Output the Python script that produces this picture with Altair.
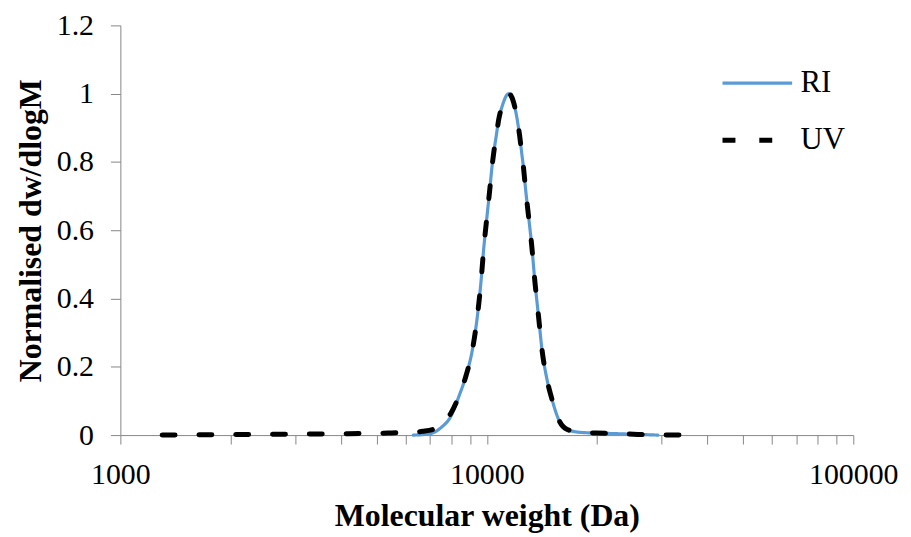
import altair as alt
import pandas as pd

# ---- data ----
ri_mw = [6298, 6917, 7502, 7986, 8395, 8770, 9133, 9423, 9632, 9814, 10031, 10189,
         10317, 10447, 10612, 10779, 11018, 11474, 11837, 12099, 12290, 12445, 12601,
         12759, 13000, 13246, 13539, 13838, 14144, 14594, 15057, 15681, 16535, 17992,
         19890, 22812, 25854, 29297]
ri_val = [0.0, 0.003, 0.022, 0.056, 0.114, 0.173, 0.25, 0.348, 0.445, 0.55, 0.65, 0.72,
          0.78, 0.828, 0.877, 0.925, 0.964, 1.0, 0.974, 0.925, 0.877, 0.828, 0.78,
          0.72, 0.64, 0.56, 0.445, 0.348, 0.25, 0.163, 0.105, 0.047, 0.017, 0.008,
          0.006, 0.004, 0.002, 0.0]

uv_mw = [1300, 1640, 2240, 3060, 4180, 5370, 6080, 6680, 7110, 7480, 7986, 8395, 8770,
         9133, 9423, 9632, 9814, 10031, 10189, 10317, 10447, 10612, 10779, 11018, 11474,
         11837, 12099, 12290, 12445, 12601, 12759, 13000, 13246, 13539, 13838, 14144,
         14594, 15057, 15681, 16535, 17992, 19890, 22812, 25854, 29297, 32890, 36800]
uv_val = [0.0, 0.001, 0.002, 0.003, 0.004, 0.006, 0.008, 0.011, 0.016, 0.03, 0.065, 0.115,
          0.173, 0.25, 0.348, 0.445, 0.55, 0.65, 0.72, 0.78, 0.828, 0.877, 0.925, 0.964,
          1.0, 0.974, 0.925, 0.877, 0.828, 0.78, 0.72, 0.64, 0.56, 0.445, 0.348, 0.25,
          0.163, 0.105, 0.047, 0.017, 0.008, 0.006, 0.004, 0.002, 0.0, 0.0, 0.0]

series_names = ["RI", "UV"]
x_ticks = [1000, 2000, 3000, 4000, 5000, 6000, 7000, 8000, 9000,
           10000, 20000, 30000, 40000, 50000, 60000, 70000, 80000, 90000, 100000]
x_labels = [1000, 10000, 100000]
y_ticks = [0, 0.2, 0.4, 0.6, 0.8, 1.0, 1.2]

df = pd.DataFrame({
    "mw": ri_mw + uv_mw,
    "val": ri_val + uv_val,
    "series": ["RI"] * len(ri_mw) + ["UV"] * len(uv_mw),
    "idx": list(range(len(ri_mw))) + list(range(len(uv_mw))),
})

FONT = "Liberation Serif"
AX = "#868686"

label_test = " || ".join(f"datum.value == {v}" for v in x_labels)

legend = alt.Legend(
    title=None, orient="none", legendX=603, legendY=21,
    symbolType="stroke", symbolSize=4900,
    labelFont=FONT, labelFontSize=31, labelColor="black",
    labelOffset=6, rowPadding=5,
)

chart = alt.Chart(df).mark_line(
    interpolate="monotone", strokeCap="round", strokeJoin="round"
).encode(
    x=alt.X("mw:Q",
            scale=alt.Scale(type="log", domain=[1000, 100000], nice=False),
            axis=alt.Axis(values=x_ticks, labelExpr=f"({label_test}) ? datum.value + '' : ''",
                          title="Molecular weight (Da)", tickSize=9, labelPadding=16,
                          titleBaseline="alphabetic", titleY=91, labelFlush=False,
                          labelOverlap=False)),
    y=alt.Y("val:Q",
            scale=alt.Scale(domain=[0, 1.2], nice=False),
            axis=alt.Axis(values=y_ticks, format="~g", title="Normalised dw/dlogM",
                          tickSize=10, labelPadding=17,
                          titleBaseline="alphabetic", titleX=-80, titleY=206,
                          titleAngle=270)),
    color=alt.Color("series:N", scale=alt.Scale(domain=series_names, range=["#5B9BD5", "#000000"]),
                    legend=legend),
    strokeDash=alt.StrokeDash("series:N", scale=alt.Scale(domain=series_names, range=[[1, 0], [13, 24]]),
                              legend=legend),
    strokeWidth=alt.StrokeWidth("series:N", scale=alt.Scale(domain=series_names, range=[3.2, 5]),
                                legend=legend),
    order="idx:Q",
).properties(
    width=737, height=412,
    autosize=alt.AutoSizeParams(type="none"),
    padding={"left": 113, "top": 16, "right": 50, "bottom": 101},
).configure_axis(
    grid=False, domainColor=AX, tickColor=AX, domainWidth=1, tickWidth=1,
    labelFont=FONT, labelFontSize=30, labelColor="black",
    titleFont=FONT, titleFontSize=32, titleFontWeight="bold", titleColor="black",
).configure_view(stroke=None)

chart.save("out.html", embed_options={"renderer": "svg", "actions": False})
